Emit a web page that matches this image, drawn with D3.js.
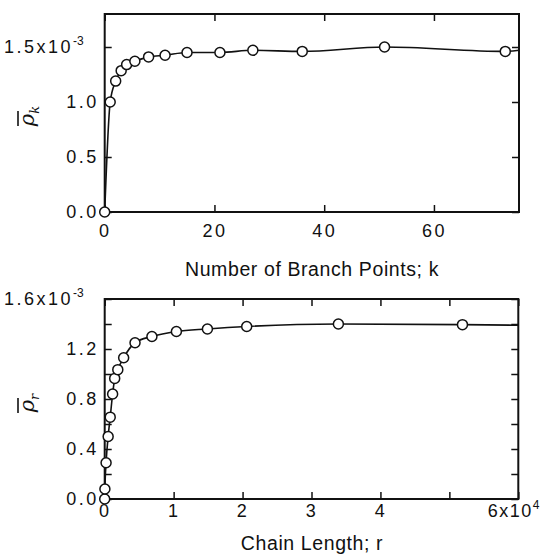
<!DOCTYPE html>
<html>
<head>
<meta charset="utf-8">
<script src="https://cdn.jsdelivr.net/npm/d3@7"></script>
<style>
  body { margin: 0; background: #fff; }
  svg text { font-family: "Liberation Sans", Arial, sans-serif; fill: #111; }
  .tick text { font-size: 18px; letter-spacing: 2.5px; }
  .tick line { stroke: #111; stroke-width: 1.5; }
</style>
</head>
<body>
<svg id="chart" width="542" height="557"></svg>
<script>
// top panel: number of branch points k vs rho_k (x1e-3)
const kValues = [0, 1, 2, 3, 4, 5.5, 8, 11, 15, 21, 27, 36, 51, 73];
const rhoK = [0, 1.0, 1.19, 1.285, 1.34, 1.37, 1.41, 1.425, 1.45, 1.45, 1.47, 1.46, 1.5, 1.46];
const rhoKEnd = 1.47; // fitted line carries on to the edge
const kTicks = [0, 20, 40, 60];
const rhoKTicks = [0, 0.5, 1.0, 1.5];

// bottom panel: chain length r vs rho_r (x1e-3)
const rValues = [0, 30, 200, 500, 800, 1150, 1450, 1900, 2750, 4400, 6850, 10400, 14900, 20600, 33900, 51900];
const rhoR = [0, 0.08, 0.29, 0.5, 0.655, 0.84, 0.965, 1.035, 1.13, 1.25, 1.3, 1.34, 1.36, 1.38, 1.4, 1.395];
const rhoREnd = 1.39;
const rTicks = [0, 10000, 20000, 30000, 40000, 50000, 60000];
const rhoRTicks = [0, 0.2, 0.4, 0.6, 0.8, 1.0, 1.2, 1.4, 1.6];

const svg = d3.select("#chart");

function panel(opt) {
  const x = d3.scaleLinear().domain(opt.xDomain).range([104.7, opt.right]);
  const y = d3.scaleLinear().domain(opt.yDomain).range([opt.bottom, opt.top]);
  const g = svg.append("g");

  // axes, ticks pointing inward
  const left = g.append("g").attr("transform", `translate(${x.range()[0]},0)`)
    .call(d3.axisLeft(y).tickValues(opt.yTicks).tickSize(-7).tickPadding(6).tickFormat(opt.yFormat));
  g.append("g").attr("transform", `translate(${x.range()[1]},0)`)
    .call(d3.axisRight(y).tickValues(opt.yTicks).tickSize(-7).tickFormat(""));
  const bottom = g.append("g").attr("transform", `translate(0,${opt.bottom})`)
    .call(d3.axisBottom(x).tickValues(opt.xTicks).tickSize(-7).tickPadding(opt.xPad).tickFormat(opt.xFormat));
  g.append("g").attr("transform", `translate(0,${opt.top})`)
    .call(d3.axisTop(x).tickValues(opt.xTicks).tickSize(-7).tickFormat(""));
  g.selectAll(".domain").remove();
  g.selectAll(".tick text").attr("fill", "#111");

  // the x10^n labels get a superscript
  left.selectAll(".tick text").filter(d => d === opt.supTick)
    .each(function (d) {
      const t = d3.select(this).text(null).attr("x", -21);
      t.append("tspan").text(d.toFixed(1) + "x10");
      t.append("tspan").attr("dy", -8).style("font-size", "12px").style("letter-spacing", "0px").text("-3");
    });
  if (opt.xSup) {
    bottom.selectAll(".tick text").filter(d => d === opt.xDomain[1])
      .each(function (d) {
        const t = d3.select(this).text(null).attr("text-anchor", "start").attr("x", -31);
        t.append("tspan").style("letter-spacing", "1.5px").text("6x10");
        t.append("tspan").attr("dy", -8).style("font-size", "12px").style("letter-spacing", "0px").text(opt.xSup);
      });
  }

  g.append("rect")
    .attr("x", x.range()[0]).attr("y", opt.top)
    .attr("width", x.range()[1] - x.range()[0]).attr("height", opt.bottom - opt.top)
    .attr("fill", "none").attr("stroke", "#111").attr("stroke-width", 2);

  const pts = opt.xs.map((v, i) => [v, opt.ys[i]]);
  const linePts = pts.concat([[opt.xDomain[1], opt.yEnd]]);
  g.append("path")
    .attr("d", d3.line().x(d => x(d[0])).y(d => y(d[1])).curve(d3.curveMonotoneX)(linePts))
    .attr("fill", "none").attr("stroke", "#111").attr("stroke-width", 1.6);

  g.selectAll("circle").data(pts).join("circle")
    .attr("cx", d => x(d[0])).attr("cy", d => y(d[1])).attr("r", 5)
    .attr("fill", "#fff").attr("stroke", "#111").attr("stroke-width", 1.5);

  g.append("text")
    .attr("x", 312).attr("y", opt.labelY).attr("text-anchor", "middle")
    .style("font-size", "19.5px").style("letter-spacing", "0.6px")
    .text(opt.xLabel);

  // y label: rho with bar and subscript, rotated
  const yl = g.append("g").attr("transform", `translate(${opt.rhoX},${opt.rhoY}) rotate(-90)`);
  const rt = yl.append("text").attr("text-anchor", "middle")
    .style("font-family", "'DejaVu Serif', 'Liberation Serif', serif").style("font-style", "italic").style("font-size", "21px");
  rt.append("tspan").text("ρ");
  rt.append("tspan").attr("dy", 5).style("font-size", "13px").text(opt.sub);
  yl.append("line").attr("x1", -10).attr("x2", 5).attr("y1", -16).attr("y2", -16)
    .attr("stroke", "#111").attr("stroke-width", 1.6);
}

panel({
  xs: kValues, ys: rhoK, yEnd: rhoKEnd,
  xDomain: [0, 75.5], yDomain: [0, 1.8],
  right: 519, top: 14, bottom: 212,
  xTicks: kTicks, yTicks: rhoKTicks, xPad: 12, supTick: 1.5,
  xFormat: d3.format("d"), yFormat: d3.format(".1f"),
  xLabel: "Number of Branch Points; k", labelY: 276,
  rhoX: 34, rhoY: 116, sub: "k"
});

panel({
  xs: rValues, ys: rhoR, yEnd: rhoREnd,
  xDomain: [0, 60000], yDomain: [0, 1.6],
  right: 518.3, top: 299, bottom: 499,
  xTicks: rTicks, yTicks: rhoRTicks, xPad: 5, supTick: 1.6,
  xFormat: d => d === 50000 ? "" : d3.format("d")(d / 10000),
  yFormat: d => Math.round(d * 10) % 4 === 0 ? d.toFixed(1) : "",
  xSup: "4",
  xLabel: "Chain Length; r", labelY: 550,
  rhoX: 34, rhoY: 403, sub: "r"
});
</script>
</body>
</html>
